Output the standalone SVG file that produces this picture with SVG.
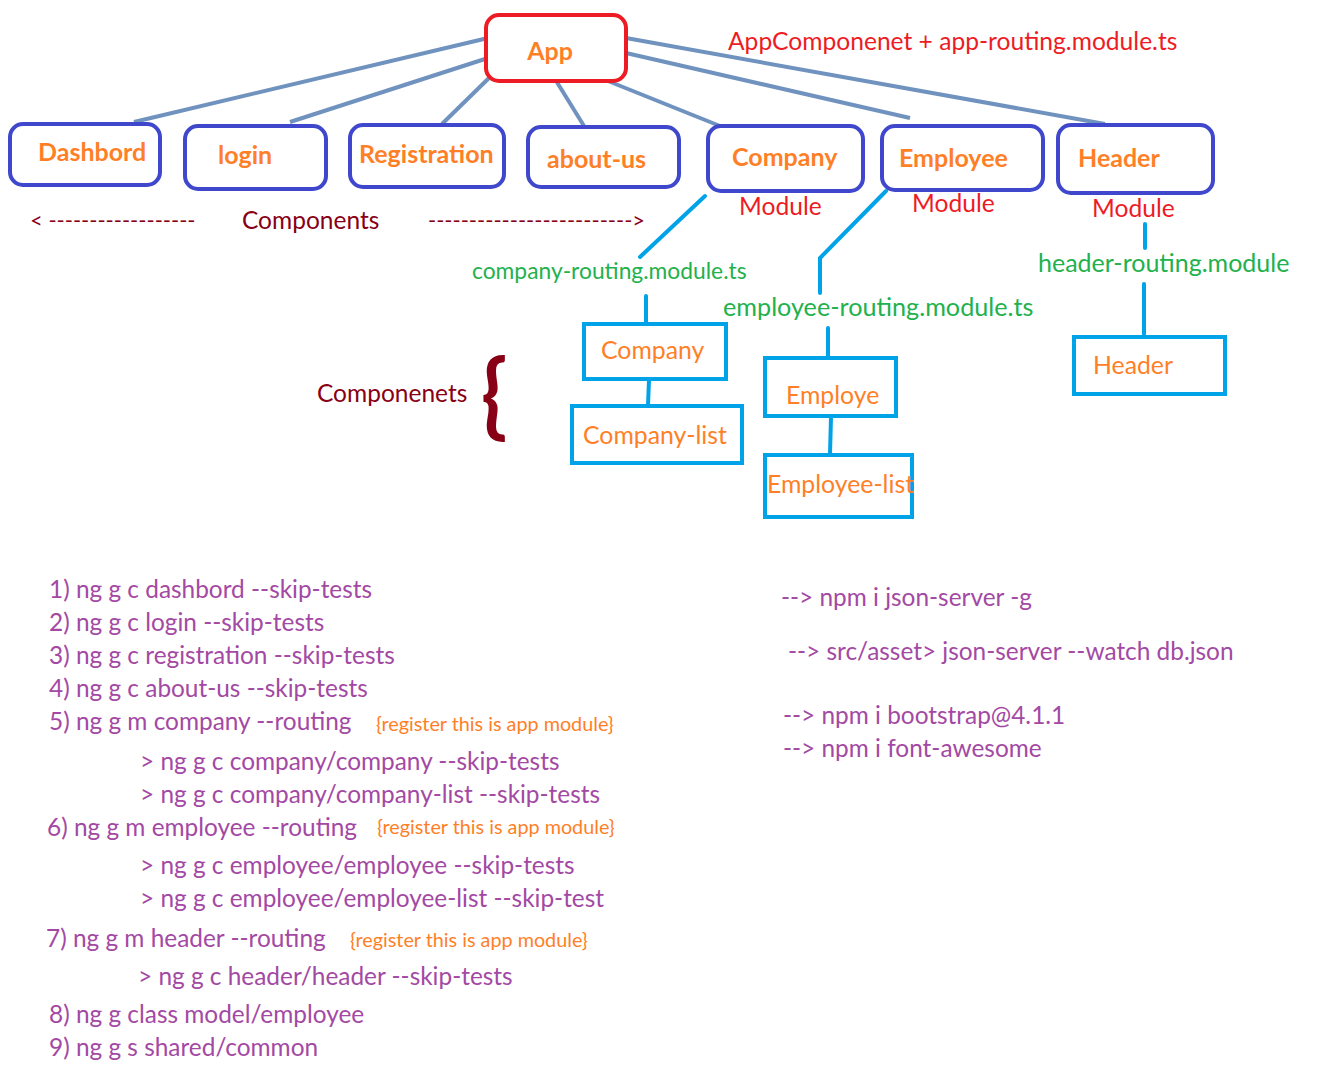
<svg xmlns="http://www.w3.org/2000/svg" width="1334" height="1092" viewBox="0 0 1334 1092">
<style>
text{font-family:Lato,"Open Sans","Liberation Sans",sans-serif}
.top{fill:#fff;stroke:#3f48cc;stroke-width:4}
.app{fill:#fff;stroke:#ed1c24;stroke-width:4}
.comp{fill:#fff;stroke:#00a2e8;stroke-width:4}
.bl{font-weight:bold;font-size:25px;fill:#ff7f27}
.or{font-size:24.8px;fill:#ff7f27}
.red{font-size:24.6px;fill:#ed1c24}
.grn{fill:#22b14c}
.dr{fill:#880015;font-size:24.5px}
.dash{fill:#880015;font-size:22px}
.pu{fill:#a349a4;font-size:24.4px}
.note{fill:#ff7f27;font-size:19.8px}
.c1{stroke:#7092be;stroke-width:4;fill:none}
.c2{stroke:#00a2e8;stroke-width:4;fill:none;stroke-linecap:round}
</style>
<rect width="1334" height="1092" fill="#fff"/>
<g id="connectors">
<line class="c1" x1="488" y1="38" x2="134" y2="122"/>
<line class="c1" x1="488" y1="58" x2="290" y2="122"/>
<line class="c1" x1="490" y1="77" x2="442" y2="124"/>
<line class="c1" x1="555" y1="79" x2="584" y2="126"/>
<line class="c1" x1="608" y1="81" x2="720" y2="126"/>
<line class="c1" x1="626" y1="53" x2="910" y2="118"/>
<line class="c1" x1="626" y1="38" x2="1105" y2="124"/>
<line class="c2" x1="705" y1="196" x2="640" y2="257"/>
<polyline class="c2" points="886,191 820,258 820,293"/>
<line class="c2" x1="1145" y1="224" x2="1145" y2="248"/>
<line class="c2" x1="1144" y1="284" x2="1144" y2="334"/>
<line class="c2" x1="646" y1="296" x2="646" y2="323"/>
<line class="c2" x1="649" y1="380" x2="648" y2="405"/>
<line class="c2" x1="828" y1="328" x2="828" y2="356"/>
<line class="c2" x1="831" y1="417" x2="830" y2="454"/>
</g>
<g id="app"><rect class="app" x="486" y="15" width="140" height="66" rx="13"/><text class="bl" x="550" y="60" text-anchor="middle">App</text></g>
<g id="dashbord"><rect class="top" x="10" y="124" width="150" height="61" rx="13"/><text class="bl" x="38" y="161">Dashbord</text></g>
<g id="login"><rect class="top" x="185" y="126" width="141" height="63" rx="13"/><text class="bl" x="218" y="164">login</text></g>
<g id="registration"><rect class="top" x="350" y="125" width="154" height="62" rx="13"/><text class="bl" x="359" y="163">Registration</text></g>
<g id="about-us"><rect class="top" x="528" y="127" width="151" height="60" rx="13"/><text class="bl" x="547" y="168">about-us</text></g>
<g id="company-module"><rect class="top" x="708" y="126" width="155" height="65" rx="13"/><text class="bl" x="732" y="166">Company</text><text class="red" x="739" y="215">Module</text></g>
<g id="employee-module"><rect class="top" x="882" y="126" width="161" height="64" rx="13"/><text class="bl" x="899" y="167">Employee</text><text class="red" x="912" y="212">Module</text></g>
<g id="header-module"><rect class="top" x="1058" y="125" width="155" height="68" rx="13"/><text class="bl" x="1078" y="167">Header</text><text class="red" x="1092" y="217">Module</text></g>
<text class="red" x="728" y="50">AppComponenet + app-routing.module.ts</text>
<g id="components-label"><text class="dash" x="30" y="228">&lt; ------------------</text><text class="dr" x="242" y="229">Components</text><text class="dash" x="428" y="228">-------------------------&gt;</text></g>
<text class="grn" x="472" y="279" font-size="22.8">company-routing.module.ts</text>
<text class="grn" x="723" y="316" font-size="25.2">employee-routing.module.ts</text>
<text class="grn" x="1038" y="272" font-size="25">header-routing.module</text>
<g id="company"><rect class="comp" x="584" y="324" width="142" height="55"/><text class="or" x="601" y="359">Company</text></g>
<g id="company-list"><rect class="comp" x="572" y="406" width="170" height="57"/><text class="or" x="583" y="444">Company-list</text></g>
<g id="employe"><rect class="comp" x="765" y="358" width="131" height="58"/><text class="or" x="786" y="404">Employe</text></g>
<g id="employee-list"><rect class="comp" x="765" y="455" width="147" height="62"/><text class="or" x="767" y="493">Employee-list</text></g>
<g id="header"><rect class="comp" x="1074" y="337" width="151" height="57"/><text class="or" x="1093" y="374">Header</text></g>
<g id="componenets-label"><text class="dr" x="317" y="402">Componenets</text><text x="481" y="428" fill="#880015" font-size="86" font-weight="bold" transform="translate(481 428) scale(1 1.08) translate(-481 -428)">{</text></g>
<g id="commands">
<text class="pu" x="49" y="598">1) ng g c dashbord --skip-tests</text>
<text class="pu" x="49" y="631">2) ng g c login --skip-tests</text>
<text class="pu" x="49" y="664">3) ng g c registration --skip-tests</text>
<text class="pu" x="49" y="697">4) ng g c about-us --skip-tests</text>
<text class="pu" x="49" y="730">5) ng g m company --routing</text>
<text class="note" x="376" y="731">{register this is app module}</text>
<text class="pu" x="140" y="770">&gt; ng g c company/company --skip-tests</text>
<text class="pu" x="140" y="803">&gt; ng g c company/company-list --skip-tests</text>
<text class="pu" x="47" y="836">6) ng g m employee --routing</text>
<text class="note" x="377" y="834">{register this is app module}</text>
<text class="pu" x="140" y="874">&gt; ng g c employee/employee --skip-tests</text>
<text class="pu" x="140" y="907">&gt; ng g c employee/employee-list --skip-test</text>
<text class="pu" x="46" y="947">7) ng g m header --routing</text>
<text class="note" x="350" y="947">{register this is app module}</text>
<text class="pu" x="138" y="985">&gt; ng g c header/header --skip-tests</text>
<text class="pu" x="49" y="1023">8) ng g class model/employee</text>
<text class="pu" x="49" y="1056">9) ng g s shared/common</text>
<text class="pu" x="781" y="606">--&gt; npm i json-server -g</text>
<text class="pu" x="788" y="660">--&gt; src/asset&gt; json-server --watch db.json</text>
<text class="pu" x="783" y="724">--&gt; npm i bootstrap@4.1.1</text>
<text class="pu" x="783" y="757">--&gt; npm i font-awesome</text>
</g>
</svg>
